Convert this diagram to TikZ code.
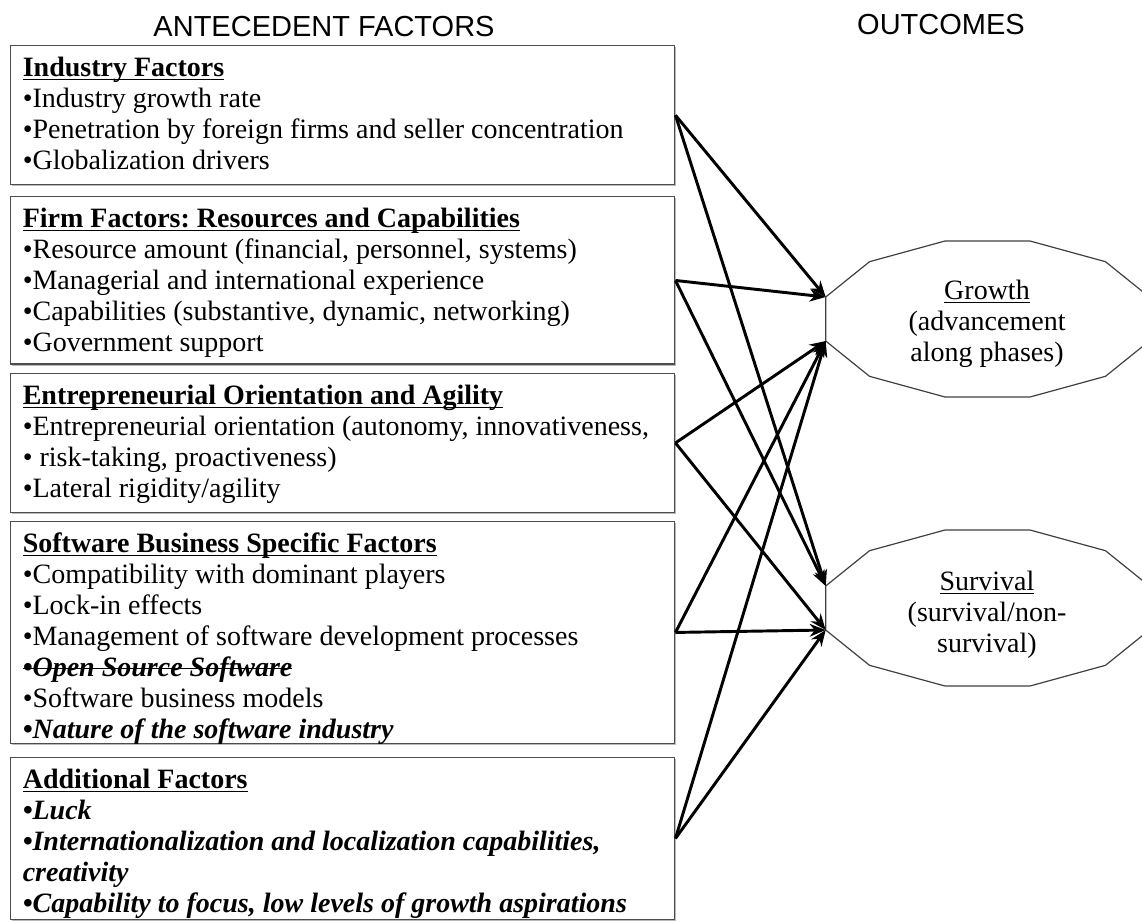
\documentclass[tikz,border=0pt]{standalone}
\usepackage{fontspec}
\setmainfont{Liberation Serif}
\newfontfamily\titlefont{Liberation Sans}
\usetikzlibrary{arrows.meta,shadows}
\frenchspacing

% underlined and struck-through text, drawn with rules
\newsavebox{\markbox}
\newcommand{\ulined}[1]{\leavevmode\sbox{\markbox}{#1}%
  \rlap{\rule[-2.6pt]{\wd\markbox}{1pt}}\usebox{\markbox}}
\newcommand{\struck}[1]{\leavevmode\sbox{\markbox}{#1}%
  \rlap{\rule[0.27em]{\wd\markbox}{1pt}}\usebox{\markbox}}

\begin{document}
\begin{tikzpicture}[x=0.75pt,y=-0.75pt,
  factorbox/.style={draw=black!70, line width=1.1pt, fill=white, inner sep=0pt,
    anchor=north west, minimum width=498pt,
    drop shadow={shadow xshift=1.2pt, shadow yshift=-1.2pt, fill=black!45, opacity=0.6}},
  factortext/.style={anchor=north west, align=left, inner sep=0pt,
    font=\fontsize{21pt}{23.25pt}\selectfont},
  outcometext/.style={anchor=north, align=center, inner sep=0pt,
    font=\fontsize{21pt}{23.25pt}\selectfont},
  heading/.style={font=\titlefont\fontsize{21.75pt}{26pt}\selectfont, inner sep=0pt, anchor=base},
  link/.style={line width=2.2pt, -{Stealth[length=12pt,width=9.5pt]}},
  outline/.style={draw=black!75, line width=0.9pt}
]
\clip (0,0) rectangle (1142,921);

% column headings
\node[heading] (anteTitle) at (324,36.7) {ANTECEDENT FACTORS};
\node[heading] (outTitle) at (941,34.3) {OUTCOMES};

% antecedent boxes
\node[factorbox, minimum height=104.25pt] (b1) at (10,45) {};
\node[factorbox, minimum height=125.6pt] (b2) at (10,196) {};
\node[factorbox, minimum height=104.25pt] (b3) at (10,372.7) {};
\node[factorbox, minimum height=166.5pt] (b4) at (10,520.7) {};
\node[factorbox, minimum height=121.5pt] (b5) at (10,756.7) {};

\node[factortext] (t1) at ([xshift=9.4pt,yshift=-7.35pt]b1.north west) {%
\strut\textbf{\ulined{Industry Factors}}\\
\strut•Industry growth rate\\
\strut•Penetration by foreign firms and seller concentration\\
\strut•Globalization drivers};

\node[factortext] (t2) at ([xshift=9.4pt,yshift=-7.35pt]b2.north west) {%
\strut\textbf{\ulined{Firm Factors: Resources and Capabilities}}\\
\strut•Resource amount (financial, personnel, systems)\\
\strut•Managerial and international experience\\
\strut•Capabilities (substantive, dynamic, networking)\\
\strut•Government support};

\node[factortext] (t3) at ([xshift=9.4pt,yshift=-7.35pt]b3.north west) {%
\strut\textbf{\ulined{Entrepreneurial Orientation and Agility}}\\
\strut•Entrepreneurial orientation (autonomy, innovativeness,\\
\strut• risk-taking, proactiveness)\\
\strut•Lateral rigidity/agility};

\node[factortext] (t4) at ([xshift=9.4pt,yshift=-7.35pt]b4.north west) {%
\strut\textbf{\ulined{Software Business Specific Factors}}\\
\strut•Compatibility with dominant players\\
\strut•Lock-in effects\\
\strut•Management of software development processes\\
\strut\textbf{\textit{\struck{•Open Source Software}}}\\
\strut•Software business models\\
\strut\textbf{\textit{•Nature of the software industry}}};

\node[factortext] (t5) at ([xshift=9.4pt,yshift=-7.35pt]b5.north west) {%
\strut\textbf{\ulined{Additional Factors}}\\
\strut\textbf{\textit{•Luck}}\\
\strut\textbf{\textit{•Internationalization and localization capabilities,}}\\
\strut\textbf{\textit{creativity}}\\
\strut\textbf{\textit{•Capability to focus, low levels of growth aspirations}}};

% outcome dodecagons
\coordinate (gu) at (825.7,297);
\coordinate (gl) at (825.7,341);
\coordinate (su) at (825.7,586);
\coordinate (sl) at (825.7,630);

\draw[outline] (gu) -- (869.5,261.7) -- (945,241) -- (1030,241) -- (1105.5,261.7)
  -- (1149.3,297) -- (1149.3,341) -- (1105.5,376.3) -- (1030,397) -- (945,397)
  -- (869.5,376.3) -- (gl) -- cycle;
\draw[outline] (su) -- (869.5,550.7) -- (945,530) -- (1030,530) -- (1105.5,550.7)
  -- (1149.3,586) -- (1149.3,630) -- (1105.5,665.3) -- (1030,686) -- (945,686)
  -- (869.5,665.3) -- (sl) -- cycle;

\node[outcometext] (growth) at (987,277.6) {%
\strut\ulined{Growth}\\\strut(advancement\\\strut along phases)};
\node[outcometext] (survival) at (987,569) {%
\strut\ulined{Survival}\\\strut(survival/non-\\\strut survival)};

% influence links
\draw[link] (b1.east) -- (gu);
\draw[link] (b1.east) -- (su);
\draw[link] (b2.east) -- (gu);
\draw[link] (b2.east) -- (su);
\draw[link] (b3.east) -- (gl);
\draw[link] (b3.east) -- (sl);
\draw[link] (b4.east) -- (gl);
\draw[link] (b4.east) -- (sl);
\draw[link] (b5.east) -- (gl);
\draw[link] (b5.east) -- (sl);
\end{tikzpicture}
\end{document}
